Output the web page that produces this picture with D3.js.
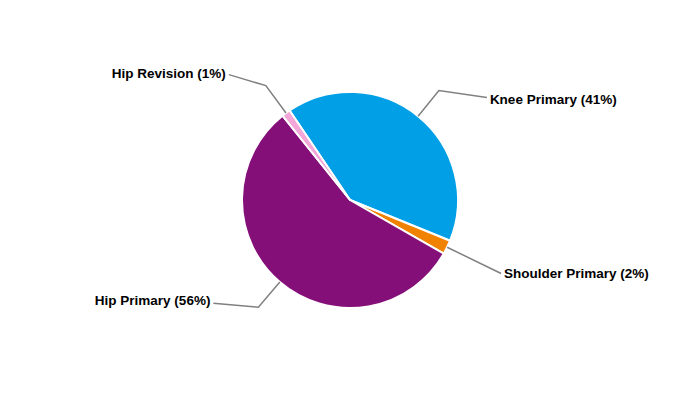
<!DOCTYPE html>
<html><head><meta charset="utf-8">
<script src="https://cdn.jsdelivr.net/npm/d3@7"></script>
<style>body{margin:0;background:#fff;}svg{display:block;}</style>
</head><body>
<svg id="chart" width="700" height="400"></svg>
<script>
const categories = ["Knee Primary", "Shoulder Primary", "Hip Primary", "Hip Revision"];
const values = [40.6, 2.1, 56.0, 1.3];
const colors = ["#009FE6", "#F08200", "#850F78", "#F2A7D8"];

const svg = d3.select("#chart");
const cx = 350, cy = 200, r = 108;
const g = svg.append("g").attr("transform", `translate(${cx},${cy})`);

const data = categories.map((c, i) => ({ name: c, value: values[i], color: colors[i] }));
const total = d3.sum(values);
const pie = d3.pie().sort(null).value(d => d.value).startAngle(-34 * Math.PI / 180).endAngle((360 - 34) * Math.PI / 180);
const arcs = pie(data);
const arc = d3.arc().innerRadius(0).outerRadius(r);

g.selectAll("path.slice").data(arcs).enter().append("path")
  .attr("class", "slice")
  .attr("d", arc)
  .attr("fill", d => d.data.color)
  .attr("stroke", "#fff")
  .attr("stroke-width", 2)
  .attr("stroke-linejoin", "round");

// label layout: elbow radius, offset from elbow to label anchor, text vertical nudge
const layout = [
  { elbowR: 141, dx: 48, dy: 7, anchor: "start", tdy: 2 },
  { elbowR: 168, dx: 0, dy: 0, anchor: "start", tdy: 0 },
  { elbowR: 141, dx: -45, dy: -4, anchor: "end", tdy: -3 },
  { elbowR: 142, dx: -37, dy: -11, anchor: "end", tdy: -1 }
];

const pt = (a, rad) => [rad * Math.sin(a), -rad * Math.cos(a)];

arcs.forEach((d, i) => {
  const mid = (d.startAngle + d.endAngle) / 2;
  const L = layout[i];
  const p0 = pt(mid, r);
  const p1 = pt(mid, L.elbowR);
  const p2 = [p1[0] + L.dx, p1[1] + L.dy];
  g.append("polyline")
    .attr("points", [p0, p1, p2].map(p => p.join(",")).join(" "))
    .attr("fill", "none")
    .attr("stroke", "#808080")
    .attr("stroke-width", 1.5);
  const pct = Math.round(d.data.value / total * 100);
  g.append("text")
    .attr("x", p2[0] + (L.anchor === "start" ? 3 : -3))
    .attr("y", p2[1] + L.tdy)
    .attr("text-anchor", L.anchor)
    .attr("dominant-baseline", "central")
    .attr("font-family", "Liberation Sans, Arial, sans-serif")
    .attr("font-weight", "bold")
    .attr("font-size", 13.5)
    .attr("fill", "#000")
    .text(`${d.data.name} (${pct}%)`);
});
</script>
</body></html>
